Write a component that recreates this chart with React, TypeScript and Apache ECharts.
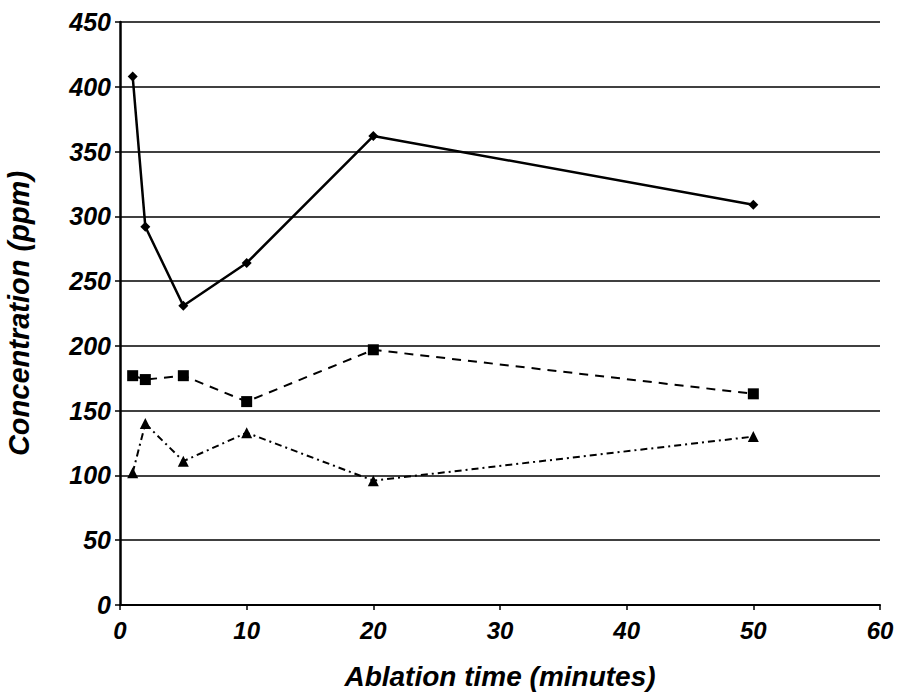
import React, { useEffect, useRef } from "react";
import * as echarts from "echarts";

const times = [1, 2, 5, 10, 20, 50];
const seriesA = [408, 292, 231, 264, 362, 309];
const seriesB = [177, 174, 177, 157, 197, 163];
const seriesC = [102, 140, 111, 133, 96, 130];

const FONT = "'Liberation Sans', Arial, sans-serif";

export default function App() {
  const ref = useRef<HTMLDivElement>(null);
  useEffect(() => {
    if (!ref.current) return;
    const chart = echarts.init(ref.current, null, { renderer: "svg" });
    const pair = (ys: number[]) => times.map((t, i) => [t, ys[i]]);
    chart.setOption({
      animation: false,
      backgroundColor: "#ffffff",
      grid: { left: 120, right: 20, top: 22, bottom: 87, containLabel: false, outerBoundsMode: "none" },
      xAxis: {
        type: "value",
        min: 0,
        max: 60,
        interval: 10,
        name: "Ablation time (minutes)",
        nameLocation: "middle",
        nameGap: 57,
        nameTextStyle: { fontFamily: FONT, fontSize: 28, fontWeight: "bold", fontStyle: "italic", color: "#000" },
        axisLine: { show: true, lineStyle: { color: "#000", width: 2 } },
        axisTick: { show: true, length: 5, lineStyle: { color: "#000", width: 1.5 } },
        axisLabel: { fontFamily: FONT, fontSize: 24, fontWeight: "bold", fontStyle: "italic", color: "#000", margin: 13 },
        splitLine: { show: false },
      },
      yAxis: {
        type: "value",
        min: 0,
        max: 450,
        interval: 50,
        name: "Concentration (ppm)",
        nameLocation: "middle",
        nameGap: 87,
        nameTextStyle: { fontFamily: FONT, fontSize: 29, fontWeight: "bold", fontStyle: "italic", color: "#000" },
        axisLine: { show: true, lineStyle: { color: "#000", width: 2.5 } },
        axisTick: { show: true, length: 5, lineStyle: { color: "#000", width: 1.5 } },
        axisLabel: { fontFamily: FONT, fontSize: 25, fontWeight: "bold", fontStyle: "italic", color: "#000", margin: 9 },
        splitLine: { show: true, lineStyle: { color: "#000", width: 1.5 } },
      },
      series: [
        {
          type: "line",
          data: pair(seriesA),
          symbol: "diamond",
          symbolSize: 10,
          itemStyle: { color: "#000" },
          lineStyle: { color: "#000", width: 2.5, type: "solid" },
          z: 5,
        },
        {
          type: "line",
          data: pair(seriesB),
          symbol: "rect",
          symbolSize: 11,
          itemStyle: { color: "#000" },
          lineStyle: { color: "#000", width: 2, type: [9, 7] },
          z: 5,
        },
        {
          type: "line",
          data: pair(seriesC),
          symbol: "triangle",
          symbolSize: 11,
          itemStyle: { color: "#000" },
          lineStyle: { color: "#000", width: 2, type: [7, 4, 2, 4] },
          z: 5,
        },
      ],
    });
    return () => chart.dispose();
  }, []);
  return <div ref={ref} style={{ width: 900, height: 692, position: "absolute", left: 0, top: 0 }} />;
}
